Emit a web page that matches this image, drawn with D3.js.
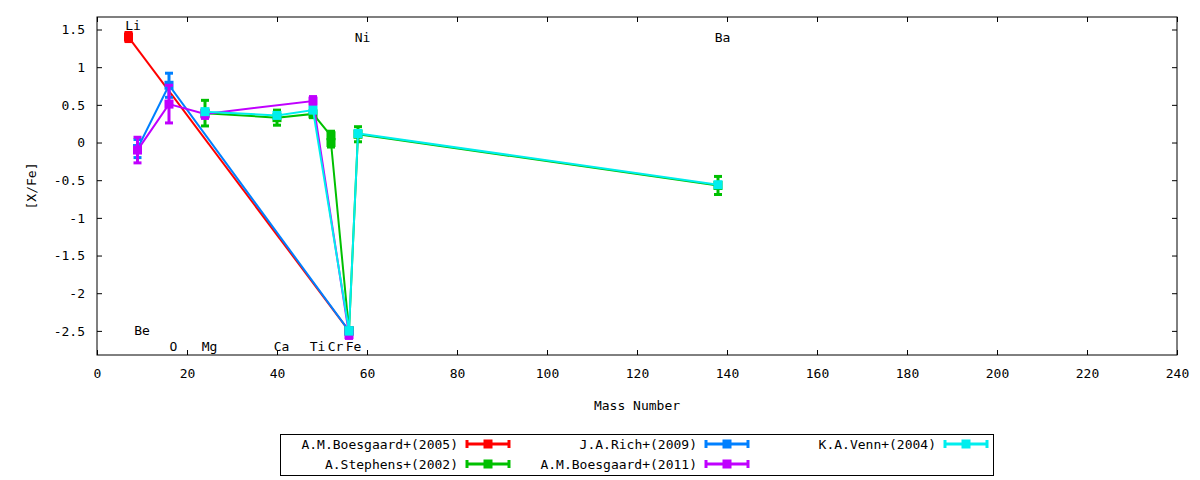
<!DOCTYPE html>
<html>
<head>
<meta charset="utf-8">
<script src="https://cdn.jsdelivr.net/npm/d3@7"></script>
<style>
  body { margin: 0; background: #fff; }
  svg { font-family: "DejaVu Sans Mono", monospace; font-size: 13px; }
</style>
</head>
<body>
<div id="chart"></div>
<script>
// element masses used on the x axis
var massOf = { Li: 7, Be: 9, O: 16, Mg: 24, Ca: 40, Ti: 48, Cr: 52, Fe: 56, Ni: 58, Ba: 138 };

// element labels drawn inside the plot: [name, y]
var labelNames = ["Li", "Be", "O", "Mg", "Ca", "Ti", "Cr", "Fe", "Ni", "Ba"];
var labelY = [1.55, -2.5, -2.7, -2.7, -2.7, -2.7, -2.7, -2.7, 1.4, 1.4];

// series, in plot order
var boesgaard2005El = ["Li", "Fe"];
var boesgaard2005Val = [1.40, -2.5];
var boesgaard2005Err = [0.06, 0.04];

var stephens2002El = ["Mg", "Ca", "Ti", "Cr", "Cr", "Fe", "Ni", "Ba"];
var stephens2002Val = [0.39, 0.33, 0.38, 0.09, 0.0, -2.5, 0.11, -0.57];
var stephens2002Err = [0.17, 0.10, 0.05, 0.06, 0.06, 0.04, 0.10, 0.12];

var rich2009El = ["Be", "O", "Fe"];
var rich2009Val = [-0.08, 0.76, -2.5];
var rich2009Err = [0.12, 0.16, 0.04];

var boesgaard2011El = ["Be", "O", "Mg", "Ti", "Fe"];
var boesgaard2011Val = [-0.10, 0.51, 0.38, 0.55, -2.55];
var boesgaard2011Err = [0.17, 0.25, 0.06, 0.06, 0.05];

var venn2004El = ["Mg", "Ca", "Ti", "Fe", "Ni", "Ba"];
var venn2004Val = [0.41, 0.36, 0.43, -2.5, 0.12, -0.56];
var venn2004Err = [0.03, 0.03, 0.03, 0.04, 0.03, 0.03];

var seriesNames = ["A.M.Boesgaard+(2005)", "A.Stephens+(2002)", "J.A.Rich+(2009)",
                   "A.M.Boesgaard+(2011)", "K.A.Venn+(2004)"];
var seriesColors = ["#ff0000", "#00c000", "#0080ff", "#c000ff", "#00eeee"];

var xTicks = d3.range(0, 241, 20);
var yTicks = [1.5, 1, 0.5, 0, -0.5, -1, -1.5, -2, -2.5];

function zipSeries(el, val, err) {
  return el.map(function(e, i) { return { x: massOf[e], y: val[i], e: err[i] }; });
}
var allSeries = [
  zipSeries(boesgaard2005El, boesgaard2005Val, boesgaard2005Err),
  zipSeries(stephens2002El, stephens2002Val, stephens2002Err),
  zipSeries(rich2009El, rich2009Val, rich2009Err),
  zipSeries(boesgaard2011El, boesgaard2011Val, boesgaard2011Err),
  zipSeries(venn2004El, venn2004Val, venn2004Err)
];

var W = 1200, H = 480;
var margin = { left: 97, right: 23, top: 17, bottom: 125 };
var width = W - margin.left - margin.right;
var height = H - margin.top - margin.bottom;

var svg = d3.select("#chart").append("svg")
    .attr("width", W)
    .attr("height", H);

var g = svg.append("g")
    .attr("transform", "translate(" + margin.left + "," + margin.top + ")");

var x = d3.scaleLinear().domain([0, 240]).range([0, width]);
var y = d3.scaleLinear().domain([-2.82, 1.666]).range([height, 0]);

// ticks (inward, mirrored)
var tickLen = 5;
var fmt = function(d) { return d3.format("")(d).replace("−", "-"); };

var xAxis = g.append("g").attr("transform", "translate(0," + height + ")")
  .call(d3.axisBottom(x).tickValues(xTicks).tickSize(-tickLen).tickPadding(14).tickFormat(fmt));
var xAxisTop = g.append("g")
  .call(d3.axisTop(x).tickValues(xTicks).tickSize(-tickLen).tickFormat(""));
var yAxis = g.append("g")
  .call(d3.axisLeft(y).tickValues(yTicks).tickSize(-tickLen).tickPadding(12).tickFormat(fmt));
var yAxisRight = g.append("g").attr("transform", "translate(" + width + ",0)")
  .call(d3.axisRight(y).tickValues(yTicks).tickSize(-tickLen).tickFormat(""));

[xAxis, xAxisTop, yAxis, yAxisRight].forEach(function(a) {
  a.select(".domain").remove();
  a.selectAll("line").attr("stroke", "#000");
  a.selectAll("text").attr("fill", "#000")
    .style("font-family", "'DejaVu Sans Mono', monospace").style("font-size", "13px");
});

// border
g.append("rect")
  .attr("width", width).attr("height", height)
  .attr("fill", "none").attr("stroke", "#000").attr("stroke-width", 1);

// axis titles
svg.append("text")
  .attr("x", margin.left + width / 2).attr("y", 410)
  .attr("text-anchor", "middle").text("Mass Number");
svg.append("text")
  .attr("transform", "translate(36," + (margin.top + height / 2) + ") rotate(-90)")
  .attr("text-anchor", "middle").text("[X/Fe]");

// element labels
g.selectAll(".elabel")
  .data(labelNames)
  .enter().append("text")
    .attr("class", "elabel")
    .attr("x", function(d) { return x(massOf[d] + 1); })
    .attr("y", function(d, i) { return y(labelY[i]); })
    .attr("dy", "0.35em")
    .attr("text-anchor", "middle")
    .text(function(d) { return d; });

var capW = 4, sq = 9;
var line = d3.line().x(function(d) { return x(d.x); }).y(function(d) { return y(d.y); });

allSeries.forEach(function(data, si) {
  var col = seriesColors[si];
  var sg = g.append("g");
  sg.append("path")
    .datum(data)
    .attr("fill", "none")
    .attr("stroke", col)
    .attr("stroke-width", 2)
    .attr("d", line);

  var eb = sg.selectAll(".eb").data(data).enter().append("g");
  eb.append("line")
    .attr("x1", function(d) { return x(d.x); }).attr("x2", function(d) { return x(d.x); })
    .attr("y1", function(d) { return y(d.y - d.e); }).attr("y2", function(d) { return y(d.y + d.e); })
    .attr("stroke", col).attr("stroke-width", 3);
  [1, -1].forEach(function(s) {
    eb.append("line")
      .attr("x1", function(d) { return x(d.x) - capW; }).attr("x2", function(d) { return x(d.x) + capW; })
      .attr("y1", function(d) { return y(d.y + s * d.e); }).attr("y2", function(d) { return y(d.y + s * d.e); })
      .attr("stroke", col).attr("stroke-width", 3);
  });
  sg.selectAll(".pt").data(data).enter().append("rect")
    .attr("x", function(d) { return x(d.x) - sq / 2; })
    .attr("y", function(d) { return y(d.y) - sq / 2; })
    .attr("width", sq).attr("height", sq)
    .attr("fill", col);
});

// legend
var legX = [458, 697, 936];
var legY = [444, 464];
svg.append("rect")
  .attr("x", 280.5).attr("y", 434.5).attr("width", 713).attr("height", 41)
  .attr("fill", "none").attr("stroke", "#000");

seriesNames.forEach(function(name, i) {
  var cx = legX[Math.floor(i / 2)], cy = legY[i % 2];
  var col = seriesColors[i];
  var lg = svg.append("g");
  lg.append("text").attr("x", cx).attr("y", cy).attr("dy", "0.35em")
    .attr("text-anchor", "end").text(name);
  var x0 = cx + 9, x1 = cx + 51;
  lg.append("line").attr("x1", x0).attr("x2", x1).attr("y1", cy).attr("y2", cy)
    .attr("stroke", col).attr("stroke-width", 3);
  [x0, x1].forEach(function(xx) {
    lg.append("line").attr("x1", xx).attr("x2", xx).attr("y1", cy - 4).attr("y2", cy + 4)
      .attr("stroke", col).attr("stroke-width", 3);
  });
  lg.append("rect").attr("x", (x0 + x1) / 2 - sq / 2).attr("y", cy - sq / 2)
    .attr("width", sq).attr("height", sq).attr("fill", col);
});
</script>
</body>
</html>
